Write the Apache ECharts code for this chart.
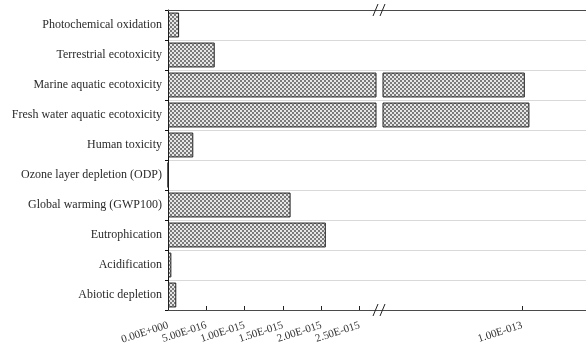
<!DOCTYPE html>
<html>
<head>
<meta charset="utf-8">
<script src="https://cdn.jsdelivr.net/npm/echarts@6/dist/echarts.min.js"></script>
<style>
  html, body { margin: 0; padding: 0; background: #fff; }
  #chart { width: 586px; height: 352px; }
</style>
</head>
<body>
<div id="chart"></div>
<script>
// Impact categories, bottom to top
var categories = [
  'Abiotic depletion',
  'Acidification',
  'Eutrophication',
  'Global warming (GWP100)',
  'Ozone layer depletion (ODP)',
  'Human toxicity',
  'Fresh water aquatic ecotoxicity',
  'Marine aquatic ecotoxicity',
  'Terrestrial ecotoxicity',
  'Photochemical oxidation'
];
var impactValues = [1.08e-16, 4.4e-17, 2.06e-15, 1.6e-15, 0, 3.3e-16, 1.0053e-13, 1.002e-13, 6.1e-16, 1.45e-16];

// Broken value axis: a low segment and a high segment
var lowTicks = [0, 5e-16, 1e-15, 1.5e-15, 2e-15, 2.5e-15];
var highTicks = [1e-13];
var lowRange = [0, 2.715e-15];
var highRange = [9.0e-14, 1.046e-13];

// Layout
var plotLeft = 168, plotTop = 10, plotHeight = 300;
var lowRight = 376, highLeft = 383;
var W = 586;

function sci(v) {
  if (v === 0) return '0.00E+000';
  var s = v.toExponential(2).split('e');
  var exp = parseInt(s[1], 10);
  var sign = exp < 0 ? '-' : '+';
  var e = String(Math.abs(exp));
  while (e.length < 3) e = '0' + e;
  return s[0] + 'E' + sign + e;
}

// Cross-hatched fill tile
function hatch() {
  var c = document.createElement('canvas');
  c.width = 4; c.height = 4;
  var g = c.getContext('2d');
  g.fillStyle = '#e6e6e6';
  g.fillRect(0, 0, 4, 4);
  g.fillStyle = '#7a7a7a';
  g.fillRect(0, 0, 2, 2);
  g.fillRect(2, 2, 2, 2);
  return c;
}
var fill = { image: hatch(), repeat: 'repeat' };

var serif = '"Liberation Serif", "Times New Roman", serif';

var chart = echarts.init(document.getElementById('chart'), null, { renderer: 'canvas' });

var barStyle = { color: fill, borderColor: '#222', borderWidth: 1 };

var option = {
  animation: false,
  backgroundColor: '#fff',
  grid: [
    { left: plotLeft, top: plotTop, width: W - plotLeft, height: plotHeight },
    { left: plotLeft, top: plotTop, width: lowRight - plotLeft, height: plotHeight },
    { left: highLeft, top: plotTop, width: W - highLeft, height: plotHeight }
  ],
  xAxis: [
    // frame lines spanning the full plot
    { gridIndex: 0, type: 'value', position: 'bottom', min: 0, max: 1,
      axisLine: { show: true, lineStyle: { color: '#4a4a4a', width: 1 } },
      axisTick: { show: false }, axisLabel: { show: false }, splitLine: { show: false } },
    { gridIndex: 0, type: 'value', position: 'top', min: 0, max: 1,
      axisLine: { show: true, lineStyle: { color: '#4a4a4a', width: 1 } },
      axisTick: { show: false }, axisLabel: { show: false }, splitLine: { show: false } },
    // low segment
    { gridIndex: 1, type: 'value', position: 'bottom', min: lowRange[0], max: lowRange[1],
      axisLine: { show: false },
      axisTick: { show: true, inside: true, length: 4, customValues: lowTicks,
                  lineStyle: { color: '#222' } },
      axisLabel: { show: true, customValues: lowTicks, rotate: 18, margin: 15,
                   fontFamily: serif, fontSize: 11, color: '#333',
                   formatter: function (v) { return sci(v); } },
      splitLine: { show: false } },
    // high segment
    { gridIndex: 2, type: 'value', position: 'bottom', min: highRange[0], max: highRange[1],
      axisLine: { show: false },
      axisTick: { show: true, inside: true, length: 4, customValues: highTicks,
                  lineStyle: { color: '#222' } },
      axisLabel: { show: true, customValues: highTicks, rotate: 18, margin: 15,
                   fontFamily: serif, fontSize: 11, color: '#333',
                   formatter: function (v) { return sci(v); } },
      splitLine: { show: false } }
  ],
  yAxis: [
    { gridIndex: 0, type: 'category', data: categories,
      axisLine: { show: true, lineStyle: { color: '#111', width: 1 } },
      axisTick: { show: true, length: 3, lineStyle: { color: '#111' } },
      axisLabel: { fontFamily: serif, fontSize: 12, color: '#2a2a2a', margin: 6 },
      splitLine: { show: true, lineStyle: { color: '#d9d9d9', width: 1 } } },
    { gridIndex: 1, type: 'category', data: categories, show: false },
    { gridIndex: 2, type: 'category', data: categories, show: false }
  ],
  series: [
    { type: 'bar', xAxisIndex: 2, yAxisIndex: 1, data: impactValues,
      barCategoryGap: '17%', itemStyle: barStyle, clip: true },
    { type: 'bar', xAxisIndex: 3, yAxisIndex: 2,
      data: impactValues.map(function (v) { return v > highRange[0] ? v : '-'; }),
      barCategoryGap: '17%', itemStyle: barStyle, clip: true }
  ]
};
chart.setOption(option);

// Axis break marks ("//") on the top and bottom frame lines
var bx = (lowRight + highLeft) / 2;
var marks = [];
[plotTop, plotTop + plotHeight].forEach(function (y) {
  [-4, 3].forEach(function (dx) {
    marks.push({
      type: 'line', z: 100,
      shape: { x1: bx + dx - 2.5, y1: y + 6, x2: bx + dx + 2.5, y2: y - 6 },
      style: { stroke: '#222', lineWidth: 1 }
    });
  });
});
chart.setOption({ graphic: marks });
</script>
</body>
</html>
